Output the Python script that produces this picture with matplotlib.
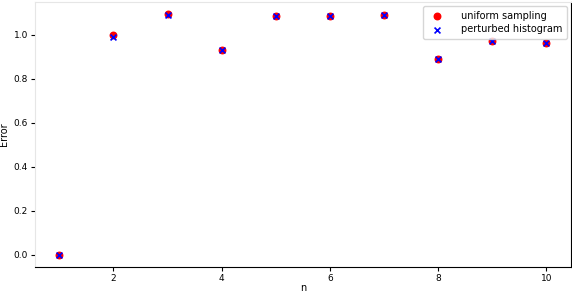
import numpy as np
import matplotlib.pyplot as plt

n = [1, 2, 3, 4, 5, 6, 7, 8, 9, 10]
uniform_sampling = [0.0, 0.998, 1.093, 0.932, 1.086, 1.086, 1.089, 0.890, 0.970, 0.962]
perturbed_histogram = [0.0, 0.988, 1.088, 0.930, 1.084, 1.084, 1.088, 0.890, 0.970, 0.962]

fig = plt.figure(figsize=(5.72, 2.94), dpi=100)
ax = fig.add_axes([0.061, 0.092, 0.937, 0.901])

ax.scatter(n, uniform_sampling, color='red', s=22, label='uniform sampling')
ax.scatter(n, perturbed_histogram, color='blue', marker='x', s=18, linewidths=1.2,
           label='perturbed histogram')

ax.set_xticks([2, 4, 6, 8, 10])
ax.set_yticks([0.0, 0.2, 0.4, 0.6, 0.8, 1.0])
ax.tick_params(labelsize=6.5, length=3, width=0.8, pad=2)
ax.set_xlabel('n', fontsize=7, labelpad=0)
ax.set_ylabel('Error', fontsize=7, labelpad=3)

ax.spines['left'].set_color('#e6e6e6')
ax.spines['top'].set_color('#e6e6e6')
ax.spines['bottom'].set_color('black')
ax.spines['right'].set_color('black')

ax.legend(loc='upper right', fontsize=7, handletextpad=1.4, borderpad=0.5,
          labelspacing=0.35, borderaxespad=0.4)

plt.savefig('out.png', dpi=100)
